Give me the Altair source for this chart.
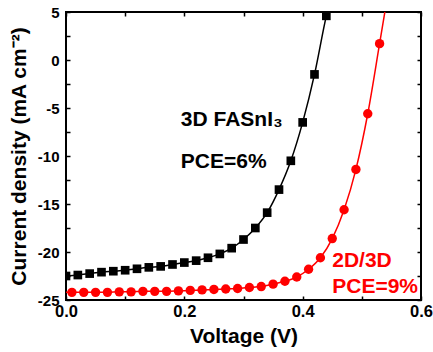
import altair as alt
import pandas as pd

# ---- data ----
v_3d = [0.00, 0.02, 0.04, 0.06, 0.08, 0.10, 0.12, 0.14, 0.16, 0.18, 0.20, 0.22,
        0.24, 0.26, 0.28, 0.30, 0.32, 0.34, 0.36, 0.38, 0.40, 0.42, 0.44]
j_3d = [-22.5, -22.4, -22.25, -22.1, -22.0, -21.9, -21.75, -21.6, -21.5, -21.3, -21.1, -20.9,
        -20.6, -20.2, -19.6, -18.7, -17.5, -15.9, -13.5, -10.5, -6.5, -1.5, 4.6]

v_2d = [0.01, 0.03, 0.05, 0.07, 0.09, 0.11, 0.13, 0.15, 0.17, 0.19, 0.21, 0.23, 0.25, 0.27,
        0.29, 0.31, 0.33, 0.35, 0.37, 0.39, 0.41, 0.43, 0.45, 0.47, 0.49, 0.51, 0.53]
j_2d = [-24.2, -24.2, -24.2, -24.2, -24.15, -24.15, -24.1, -24.1, -24.1, -24.05, -24.0, -23.95,
        -23.9, -23.85, -23.8, -23.7, -23.6, -23.35, -23.05, -22.6, -21.8, -20.6, -18.6, -15.6,
        -11.4, -5.6, 1.7]

# fitted curves (pass through markers, run to the frame)
fit_3d_v = v_3d + [0.445]
fit_3d_j = j_3d + [5.9]
fit_2d_v = [0.0] + v_2d + [0.54]
fit_2d_j = [-24.2] + j_2d + [5.4]

x_ticks = [0.0, 0.1, 0.2, 0.3, 0.4, 0.5, 0.6]
y_ticks = [-25, -22.5, -20, -17.5, -15, -12.5, -10, -7.5, -5, -2.5, 0, 2.5, 5]

ann_text = ["3D FASnI\u2083", "PCE=6%", "2D/3D", "PCE=9%"]
ann_x = [0.194, 0.194, 0.450, 0.450]
ann_y = [-6.9, -11.3, -21.6, -24.3]
ann_color = ["black", "black", "#ff0000", "#ff0000"]

BLACK = "black"
RED = "#ff0000"
FONT = "Liberation Sans"

df_3d = pd.DataFrame({"V": v_3d, "J": j_3d})
df_2d = pd.DataFrame({"V": v_2d, "J": j_2d})
fit_3d = pd.DataFrame({"V": fit_3d_v, "J": fit_3d_j})
fit_2d = pd.DataFrame({"V": fit_2d_v, "J": fit_2d_j})
ann = pd.DataFrame({"x": ann_x, "y": ann_y, "t": ann_text, "c": ann_color})

xs = alt.Scale(domain=[0, 0.6], nice=False, zero=False)
ys = alt.Scale(domain=[-25, 5], nice=False, zero=False)

common_axis = dict(domain=False, grid=False, tickColor=BLACK, tickWidth=1.5,
                   tickSize=4, offset=-4, labelFont=FONT, labelFontWeight="bold",
                   labelColor=BLACK, titleFont=FONT, titleFontWeight="bold",
                   titleColor=BLACK, titleFontSize=21, labelOverlap=False)

x_axis = alt.Axis(values=x_ticks, orient="bottom", labelFontSize=16.5, labelPadding=3,
                  labelFlush=False, titlePadding=6,
                  labelExpr="round(datum.value*10) % 2 == 0 ? format(datum.value, '.1f') : ''",
                  title="Voltage (V)", **common_axis)
y_axis = alt.Axis(values=y_ticks, orient="left", labelFontSize=15, labelPadding=7,
                  labelFlush=False, titlePadding=8,
                  labelExpr="datum.value % 5 == 0 ? '' + datum.value : ''",
                  title="Current density (mA cm\u207B\u00B2)", **common_axis)
x_axis_top = alt.Axis(values=x_ticks, orient="top", labels=False, title=None, **common_axis)
y_axis_right = alt.Axis(values=y_ticks, orient="right", labels=False, title=None, **common_axis)

line_3d = alt.Chart(fit_3d).mark_line(color=BLACK, strokeWidth=1.5, interpolate="monotone",
                                      clip=True).encode(
    x=alt.X("V:Q", scale=xs, axis=x_axis),
    y=alt.Y("J:Q", scale=ys, axis=y_axis),
)
line_2d = alt.Chart(fit_2d).mark_line(color=RED, strokeWidth=1.5, interpolate="monotone",
                                      clip=True).encode(
    x=alt.X("V:Q", scale=xs, axis=None),
    y=alt.Y("J:Q", scale=ys, axis=None),
)
pts_3d = alt.Chart(df_3d).mark_point(shape="square", filled=True, color=BLACK, size=75,
                                     opacity=1, clip=True).encode(
    x=alt.X("V:Q", scale=xs, axis=None),
    y=alt.Y("J:Q", scale=ys, axis=None),
)
pts_2d = alt.Chart(df_2d).mark_point(shape="circle", filled=True, color=RED, size=88,
                                     opacity=1, clip=True).encode(
    x=alt.X("V:Q", scale=xs, axis=x_axis_top),
    y=alt.Y("J:Q", scale=ys, axis=y_axis_right),
)
texts = alt.Chart(ann).mark_text(font=FONT, fontWeight="bold", fontSize=21, align="left",
                                 baseline="alphabetic").encode(
    x=alt.X("x:Q", scale=xs, axis=None),
    y=alt.Y("y:Q", scale=ys, axis=None),
    text="t:N",
    color=alt.Color("c:N", scale=None),
)

chart = alt.layer(line_3d, line_2d, pts_3d, pts_2d, texts).resolve_axis(
    x="independent", y="independent"
).properties(
    width=355, height=288,
    autosize=alt.AutoSizeParams(type="none"),
    padding={"left": 66, "top": 12, "right": 12, "bottom": 52},
    background="white",
).configure_view(stroke=BLACK, strokeWidth=2)

chart.save("out.html", embed_options={"renderer": "svg", "actions": False})
